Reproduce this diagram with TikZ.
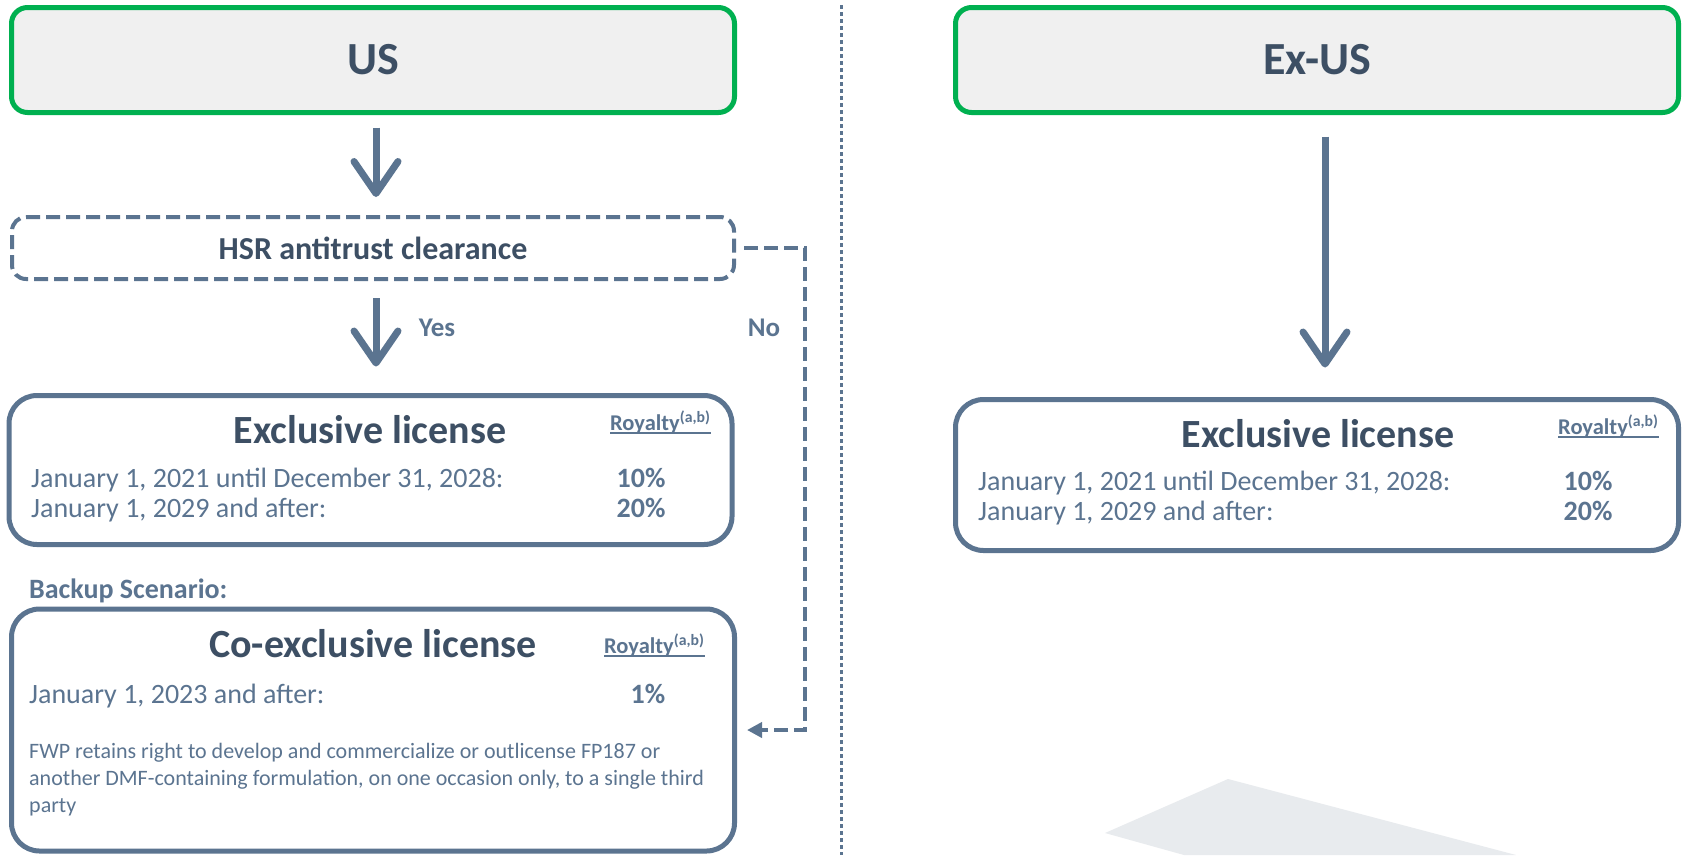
\documentclass[tikz,border=0pt]{standalone}
\usepackage{fontspec}
\setmainfont{Carlito}
\usetikzlibrary{arrows.meta}
\definecolor{slate}{HTML}{5B7490}
\definecolor{darkslate}{HTML}{3D4F64}
\definecolor{regiongreen}{HTML}{00B050}
\definecolor{regionfill}{HTML}{F0F0F0}
\definecolor{shadegray}{HTML}{E8EBEE}
\newcommand\royalty{Royalty\textsuperscript{(a,b)}}
\begin{document}
\begin{tikzpicture}[x=1pt,y=-1pt,
  region/.style={rectangle,draw=regiongreen,line width=5pt,fill=regionfill,rounded corners=16pt,minimum width=723pt,minimum height=105pt,text=darkslate,font=\fontsize{46}{50}\selectfont\bfseries},
  gate/.style={rectangle,draw=slate,line width=4pt,dash pattern=on 14pt off 6pt,rounded corners=14pt,minimum width=722pt,minimum height=62pt,text=darkslate,font=\fontsize{32}{34}\selectfont\bfseries},
  licence/.style={rectangle,draw=slate,line width=5pt,rounded corners=28pt,minimum width=723pt},
  title/.style={anchor=base,inner sep=0pt,text=darkslate,font=\fontsize{40}{44}\selectfont\bfseries},
  royalty/.style={anchor=base west,inner sep=0pt,text=slate,font=\fontsize{22.5}{24}\selectfont\bfseries},
  term/.style={anchor=base west,inner sep=0pt,text=slate,font=\fontsize{28}{30}\selectfont},
  rate/.style={anchor=base,inner sep=0pt,text=slate,font=\fontsize{28}{30}\selectfont\bfseries},
  answer/.style={inner sep=0pt,text=slate,font=\fontsize{27}{30}\selectfont\bfseries},
  note/.style={anchor=base west,align=left,inner sep=0pt,text=slate,font=\fontsize{22}{27}\selectfont},
  underbar/.style={draw=slate,line width=1.8pt},
  flow/.style={draw=slate,line width=7pt,-{Straight Barb[length=32pt,width=44pt,round]}},
  fallback/.style={draw=slate,line width=4.5pt,dash pattern=on 14pt off 6pt,-{Triangle[length=15pt,width=15pt]}}]
\path[fill=white] (0,0) rectangle (1685,855);
\useasboundingbox (0,0) rectangle (1685,855);
% background shape
\fill[shadegray] (1105,833) -- (1228,779) -- (1516,855) -- (1184,855) -- cycle;
% separator
\draw[slate,line width=3pt,dash pattern=on 4pt off 3pt] (841,5) -- (841,855);

% US side
\node[region] (us) at (373,60) {US};
\node[gate] (hsr) at (373,248) {HSR antitrust clearance};
\node[licence,minimum height=149pt] (excl) at (370.5,470) {};
\node[licence,minimum height=242pt] (coexcl) at (373,730) {};

\node[title] (excltitle) at (370,443.5) {Exclusive license};
\node[royalty] (exclroy) at (610,430) {\royalty};
\node[term] (exclfirst) at (31,487) {January 1, 2021 until December 31, 2028:};
\node[term] (exclsecond) at (31,517) {January 1, 2029 and after:};
\node[rate] (exclfirstrate) at (641,487) {10\%};
\node[rate] (exclsecondrate) at (641,517) {20\%};

\node[answer,font=\fontsize{28}{30}\selectfont\bfseries,anchor=base west] (backup) at (29,598) {Backup Scenario:};
\node[title] (coexcltitle) at (373,657) {Co-exclusive license};
\node[royalty] (coexclroy) at (604,653) {\royalty};
\node[term] (coexclfirst) at (29,703) {January 1, 2023 and after:};
\node[rate] (coexclrate) at (648,703) {1\%};
\node[note] (coexclnote) at (29,812) {FWP retains right to develop and commercialize or outlicense FP187 or\\another DMF-containing formulation, on one occasion only, to a single third\\party};

\node[answer] (yes) at (437,328) {Yes};
\node[answer] (no) at (764,328) {No};
\coordinate (nocorner) at (805,248);

% Ex-US side
\node[region] (exus) at (1317,60) {Ex-US};
\node[licence,minimum height=151pt] (exclx) at (1317,475) {};
\node[title] (exclxtitle) at (1318,447.5) {Exclusive license};
\node[royalty] (exclxroy) at (1558,434) {\royalty};
\node[term] (exclxfirst) at (978,490) {January 1, 2021 until December 31, 2028:};
\node[term] (exclxsecond) at (978,520) {January 1, 2029 and after:};
\node[rate] (exclxfirstrate) at (1588,490) {10\%};
\node[rate] (exclxsecondrate) at (1588,520) {20\%};

% underlines
\draw[underbar] ([yshift=-3pt]exclroy.base west) -- ([yshift=-3pt]exclroy.base east);
\draw[underbar] ([yshift=-3pt]coexclroy.base west) -- ([yshift=-3pt]coexclroy.base east);
\draw[underbar] ([yshift=-3pt]exclxroy.base west) -- ([yshift=-3pt]exclxroy.base east);

% connectors
\draw[flow,shorten <=12.5pt,shorten >=18pt] ([xshift=3pt]us.south) -- ([xshift=3pt]hsr.north);
\draw[flow,shorten <=17pt,shorten >=26.5pt] ([xshift=3pt]hsr.south) -- ([xshift=5.5pt]excl.north);
\draw[flow,shorten <=21.5pt,shorten >=29.5pt] ([xshift=8pt]exus.south) -- ([xshift=8pt]exclx.north);
\draw[fallback,shorten <=8pt,shorten >=10pt] (hsr.east) -- (nocorner) |- (coexcl.east);
\end{tikzpicture}
\end{document}
